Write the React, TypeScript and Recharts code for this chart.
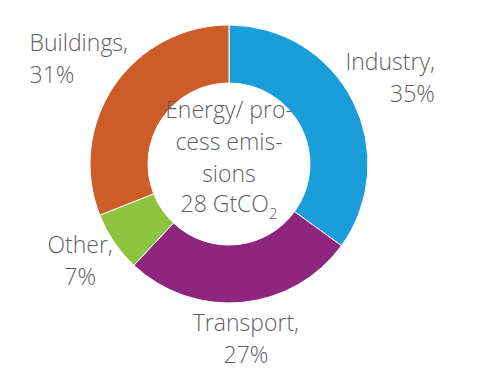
import { PieChart, Pie, Cell, Label } from 'recharts';

const sectors = ['Industry', 'Transport', 'Other', 'Buildings'];
const shares = [35, 27, 7, 31];
const colors = ['#1A9DD9', '#8E257E', '#8DC33F', '#CE5C28'];
const centerLines = ['Energy/ pro-', 'cess emis-', 'sions'];
const totalLabel = '28 GtCO';

const data = sectors.map((name, i) => ({ name, value: shares[i] }));

const RADIAN = Math.PI / 180;
const textColor = '#5f5f5f';
const font = '"Open Sans", "Noto Sans", sans-serif';
const fontSize = 23;

const renderLabel = (props: any) => {
  const { cx, cy, midAngle, outerRadius, name, value } = props;
  const r = outerRadius + 41;
  const sin = Math.sin(midAngle * RADIAN);
  const cos = Math.cos(midAngle * RADIAN);
  let x = cx + r * cos;
  const y = cy - r * sin;
  const first = `${name},`;
  let anchor: 'start' | 'middle' | 'end' = 'middle';
  // upper labels hug the ring: left-aligned on the left, right-aligned on the right
  if (sin > 0.3) {
    const half = first.length * 0.44 * fontSize / 2;
    if (cos > 0) {
      anchor = 'end';
      x += half;
    } else {
      anchor = 'start';
      x -= half;
    }
  }
  return (
    <text x={x} y={y} textAnchor={anchor} fill={textColor} fontSize={fontSize} fontFamily={font} fontWeight={300}>
      <tspan x={x} dy={-12}>{first}</tspan>
      <tspan x={x} dy={32}>{`${value}%`}</tspan>
    </text>
  );
};

const CenterText = (props: any) => {
  const vb = props.viewBox || {};
  const cx = vb.cx ?? 229;
  const cy = vb.cy ?? 164;
  return (
    <text x={cx} y={cy} textAnchor="middle" fill={textColor} fontSize={fontSize} fontFamily={font} fontWeight={300}>
      {centerLines.map((line, i) => (
        <tspan key={line} x={cx} y={cy - 46 + i * 32}>{line}</tspan>
      ))}
      <tspan x={cx} y={cy + 48}>
        {totalLabel}
        <tspan fontSize={15} dy={7}>2</tspan>
      </tspan>
    </text>
  );
};

const App = () => {
  return (
    <div style={{ position: 'absolute', left: 0, top: 0, width: 504, height: 387, background: '#fff' }}>
      <PieChart width={504} height={387} margin={{ top: 0, right: 0, bottom: 0, left: 0 }}>
        <Pie
          data={data}
          dataKey="value"
          nameKey="name"
          cx={229}
          cy={164}
          innerRadius={81}
          outerRadius={139}
          startAngle={90}
          endAngle={-270}
          stroke="#ffffff"
          strokeWidth={1}
          label={renderLabel}
          labelLine={false}
          isAnimationActive={false}
        >
          {data.map((d, i) => (
            <Cell key={d.name} fill={colors[i]} />
          ))}
          <Label position="center" content={CenterText} />
        </Pie>
      </PieChart>
    </div>
  );
};

export default App;
